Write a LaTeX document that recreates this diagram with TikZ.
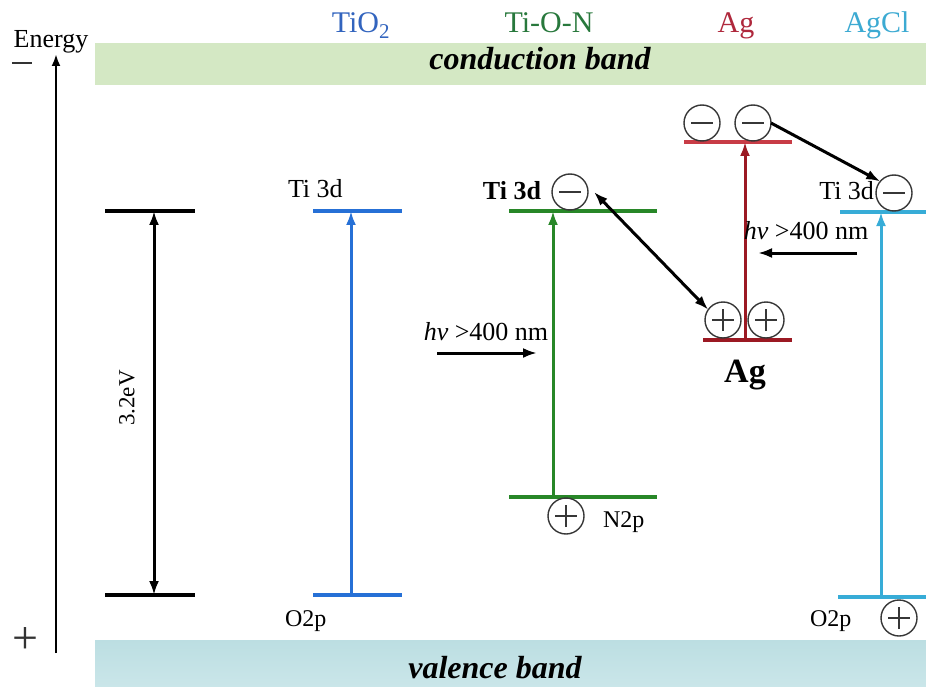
\documentclass[tikz,border=0pt]{standalone}
\usepackage{fontspec}
\setmainfont{Liberation Serif}
\usetikzlibrary{arrows.meta}
\definecolor{cbfill}{RGB}{212,232,196}
\definecolor{vbtop}{RGB}{188,222,226}
\definecolor{vbbot}{RGB}{202,230,233}
\definecolor{tiblue}{RGB}{38,112,214}
\definecolor{tibluetxt}{RGB}{50,100,190}
\definecolor{tongreen}{RGB}{40,135,40}
\definecolor{tongreentxt}{RGB}{40,120,60}
\definecolor{agred}{RGB}{155,25,35}
\definecolor{agredtop}{RGB}{200,60,70}
\definecolor{agredtxt}{RGB}{175,40,60}
\definecolor{aglblue}{RGB}{55,172,215}
\definecolor{aglbluetxt}{RGB}{60,170,210}
\definecolor{circgray}{RGB}{55,55,55}
\newcommand\fsz[1]{\fontsize{#1}{#1}\selectfont}
\begin{document}
\begin{tikzpicture}[x=1pt,y=-1pt,
  every node/.style={inner sep=0pt, outer sep=0pt},
  lvl/.style={line width=3.6pt},
  uparr/.style={line width=3pt, -{Latex[length=14pt,width=10pt]}},
  chg/.style={circle, draw=circgray, line width=1.4pt, minimum size=36pt, inner sep=0pt},
  negchg/.style={chg, path picture={\draw[circgray, line width=1.5pt]
      ([xshift=-11pt]path picture bounding box.center) -- ([xshift=11pt]path picture bounding box.center);}},
  poschg/.style={chg, path picture={\draw[circgray, line width=1.5pt]
      ([xshift=-11pt]path picture bounding box.center) -- ([xshift=11pt]path picture bounding box.center)
      ([yshift=-11pt]path picture bounding box.center) -- ([yshift=11pt]path picture bounding box.center);}},
  lbl/.style={font=\fsz{26}},
  toplbl/.style={font=\fsz{30}, anchor=base},
  bandtxt/.style={font=\fsz{32}\bfseries\itshape, anchor=base},
  blackarr/.style={line width=3pt, {Latex[length=14pt,width=10pt]}-{Latex[length=14pt,width=10pt]}},
  hvarr/.style={line width=3pt, -{Latex[length=14pt,width=10pt]}}
]
\useasboundingbox (0,0) rectangle (926,687);

% bands
\node[fill=cbfill, anchor=north west, minimum width=831pt, minimum height=42pt] (cb) at (95,43) {};
\node[top color=vbtop, bottom color=vbbot, anchor=north west, minimum width=831pt, minimum height=47pt] (vb) at (95,640) {};
\node[bandtxt] (cbt) at (540,70) {conduction band};
\node[bandtxt] (vbt) at (495,678) {valence band};

% energy axis
\node[font=\fsz{26}, anchor=base] (energy) at (51,48) {Energy};
\node[text=black!80] (eminus) at (22,63) {\rule{20pt}{2pt}};
\node[font=\fsz{46}, text=black!80] (eplus) at (25,641) {+};
\coordinate (axbot) at (56,653);
\coordinate (axtop) at (56,54);
\draw[line width=2.6pt, -{Latex[length=12pt,width=9pt]}] (axbot) -- (axtop);

% top labels
\node[toplbl, text=tibluetxt] (lTiO) at (361,33) {TiO\textsubscript{2}};
\node[toplbl, text=tongreentxt] (lTON) at (549,33) {Ti-O-N};
\node[toplbl, text=agredtxt] (lAg) at (736,33) {Ag};
\node[toplbl, text=aglbluetxt] (lAgCl) at (877,33) {AgCl};

% reference gap (black)
\coordinate (bk1a) at (105,211); \coordinate (bk1b) at (195,211);
\coordinate (bk2a) at (105,595); \coordinate (bk2b) at (195,595);
\coordinate (bkt) at (154,211); \coordinate (bkb) at (154,595);
\draw[lvl] (bk1a) -- (bk1b);
\draw[lvl] (bk2a) -- (bk2b);
\draw[blackarr] (bkb) -- (bkt);
\node[rotate=90, font=\fsz{23}] (gap) at (127,398) {3.2eV};

% TiO2 (blue)
\coordinate (bl1a) at (313,211); \coordinate (bl1b) at (402,211);
\coordinate (bl2a) at (313,595); \coordinate (bl2b) at (402,595);
\coordinate (blt) at (351,211); \coordinate (blb) at (351,595);
\draw[lvl, tiblue] (bl1a) -- (bl1b);
\draw[lvl, tiblue] (bl2a) -- (bl2b);
\draw[uparr, tiblue] (blb) -- (blt);
\node[lbl, anchor=base west] (tiA) at (288,198) {Ti 3d};
\node[font=\fsz{24}, anchor=base west] (o2pA) at (285,626) {O2p};

% Ti-O-N (green)
\coordinate (gr1a) at (509,211); \coordinate (gr1b) at (657,211);
\coordinate (gr2a) at (509,497); \coordinate (gr2b) at (657,497);
\coordinate (grt) at (553,211); \coordinate (grb) at (553,497);
\draw[lvl, tongreen] (gr1a) -- (gr1b);
\draw[lvl, tongreen] (gr2a) -- (gr2b);
\draw[uparr, tongreen] (grb) -- (grt);
\node[font=\fsz{26}\bfseries, anchor=base east] (tiB) at (541,200) {Ti 3d};
\node[negchg] (mB) at (570,192) {};
\node[poschg] (pB) at (566,516) {};
\node[font=\fsz{24}, anchor=base west] (n2p) at (603,527) {N2p};
\node[lbl, anchor=base] (hvL) at (486,340) {\textit{hv} >400 nm};
\coordinate (hvLa) at (437,353); \coordinate (hvLb) at (537,353);
\draw[hvarr] (hvLa) -- (hvLb);

% Ag (red)
\coordinate (rd1a) at (684,142); \coordinate (rd1b) at (792,142);
\coordinate (rd2a) at (703,340); \coordinate (rd2b) at (792,340);
\coordinate (rdt) at (745,142); \coordinate (rdb) at (745,340);
\draw[lvl, agredtop] (rd1a) -- (rd1b);
\draw[lvl, agred] (rd2a) -- (rd2b);
\draw[uparr, agred] (rdb) -- (rdt);
\node[negchg] (mAg1) at (702,123) {};
\node[negchg] (mAg2) at (753,123) {};
\node[poschg] (pAg1) at (723,320) {};
\node[poschg] (pAg2) at (766,320) {};
\node[font=\fsz{34}\bfseries, anchor=base] (agB) at (745,382) {Ag};

% AgCl (light blue)
\coordinate (lb1a) at (840,212); \coordinate (lb1b) at (926,212);
\coordinate (lb2a) at (838,597); \coordinate (lb2b) at (926,597);
\coordinate (lbt) at (881,212); \coordinate (lbb) at (881,597);
\draw[lvl, aglblue] (lb1a) -- (lb1b);
\draw[lvl, aglblue] (lb2a) -- (lb2b);
\draw[uparr, aglblue] (lbb) -- (lbt);
\node[lbl, anchor=base east] (tiC) at (874,200) {Ti 3d};
\node[negchg] (mC) at (894,193) {};
\node[poschg] (pC) at (899,618) {};
\node[font=\fsz{24}, anchor=base west] (o2pC) at (810,626) {O2p};
\node[lbl, anchor=base] (hvR) at (806,240) {\textit{hv} >400 nm};
\coordinate (hvRa) at (857,253); \coordinate (hvRb) at (758,253);
\draw[hvarr] (hvRa) -- (hvRb);

% charge transfer arrows
\draw[blackarr] ([xshift=6pt]mB.east) -- (pAg1.145);
\draw[hvarr] (mAg2.east) -- (mC.140);

\end{tikzpicture}
\end{document}
